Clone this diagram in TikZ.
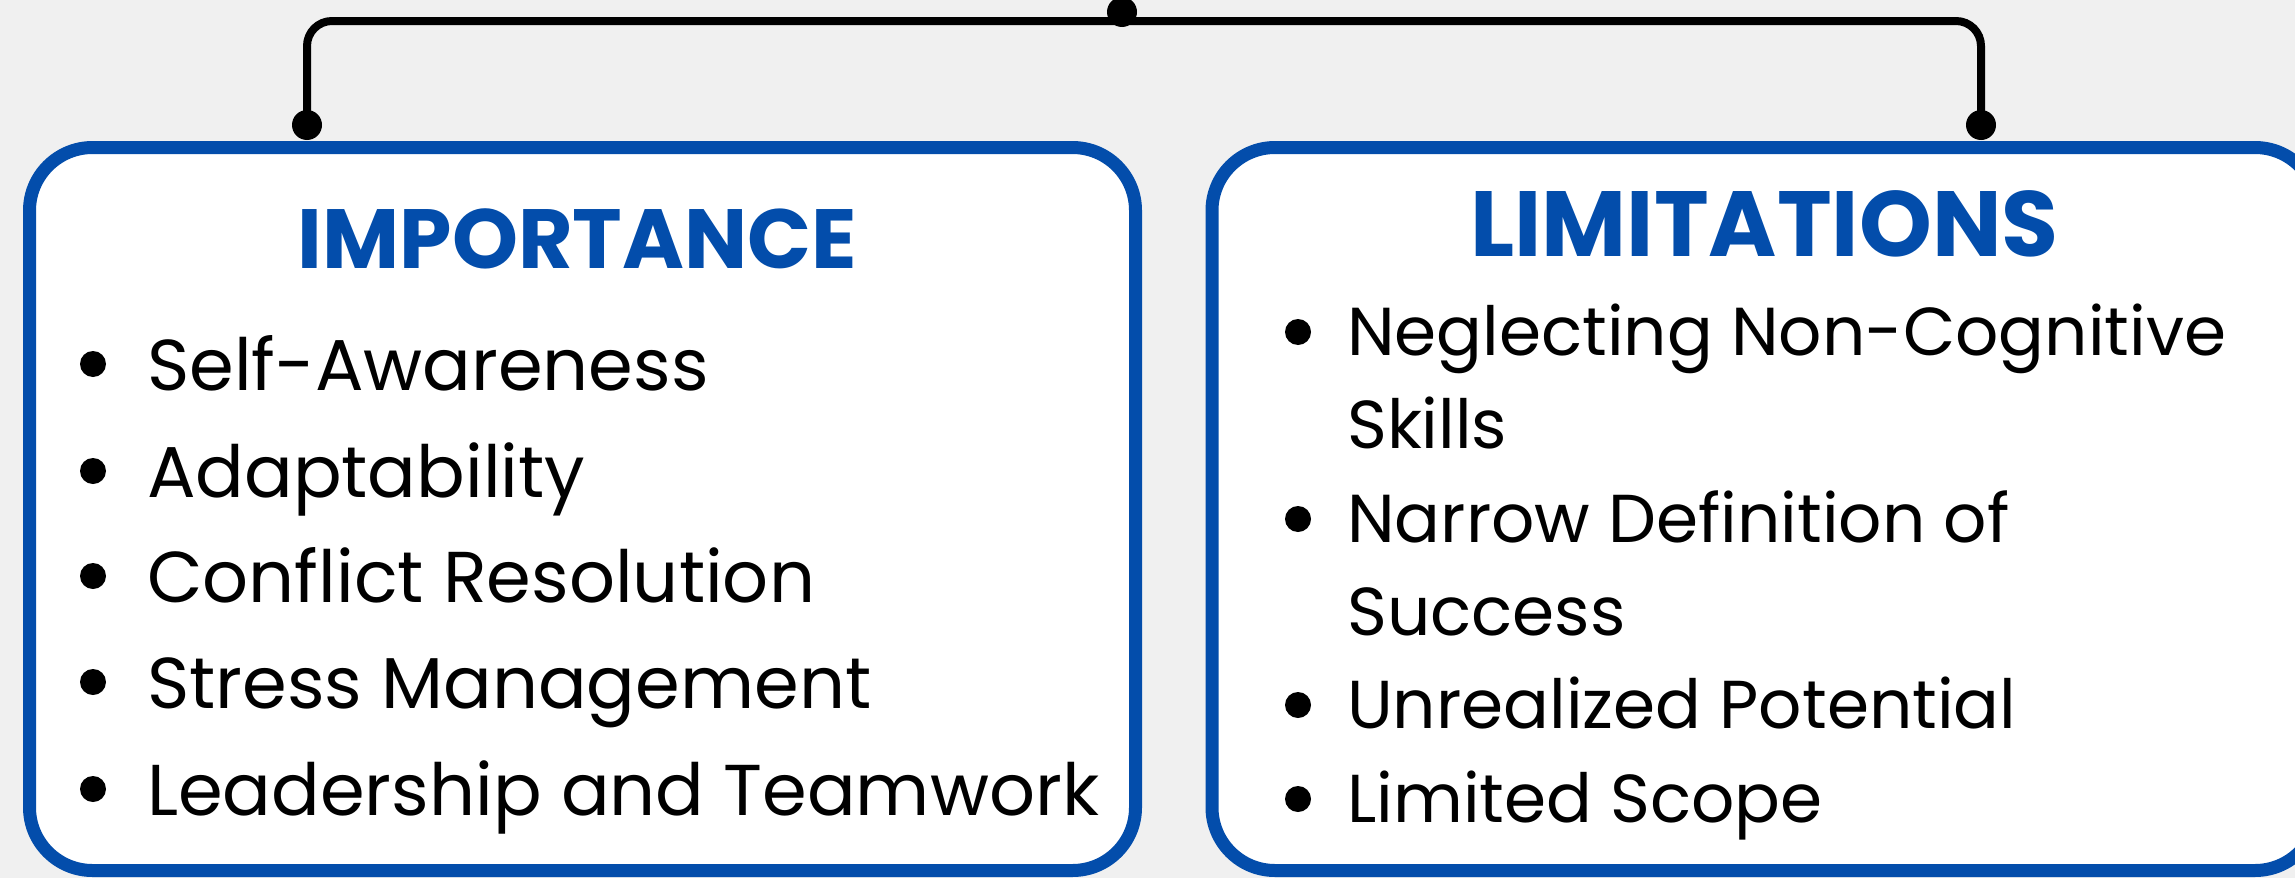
\documentclass[tikz,border=0pt]{standalone}
\usepackage{fontspec}
\setmainfont{Poppins}
\definecolor{boxblue}{RGB}{3,77,171}
\definecolor{paper}{RGB}{240,240,240}
\tikzstyle{panel}=[draw=boxblue, line width=13pt, fill=white, rounded corners=63pt, minimum width=1106pt, minimum height=723pt]
\tikzstyle{dot}=[circle, fill=black, inner sep=0pt, minimum size=30pt]
\tikzstyle{bul}=[circle, fill=black, inner sep=0pt, minimum size=26pt]
\tikzstyle{item}=[anchor=base west, inner sep=0pt]
\tikzstyle{head}=[text=boxblue, anchor=base, inner sep=0pt]
\tikzstyle{link}=[line width=8pt, rounded corners=25pt]

\begin{document}
\begin{tikzpicture}[x=1pt, y=-1pt]
    \fill[paper] (0,0) rectangle (2295,878);
    \useasboundingbox (0,0) rectangle (2295,878);
    % the two panels
    \node[panel] (imp) at (582.5,509) {};
    \node[panel] (lim) at (1765,509) {};
    \node[head, font=\fontsize{84pt}{100pt}\selectfont\bfseries] (imph) at (577.5,268) {IMPORTANCE};
    \node[head, font=\fontsize{92.6pt}{110pt}\selectfont\bfseries] (limh) at (1764.5,256) {LIMITATIONS};
    % connector on top
    \node[dot] (top) at (1122,12) {};
    \node[dot] (ldot) at (307,125) {};
    \node[dot] (rdot) at (1981,125) {};
    \coordinate (bar) at (1122,21);
    \draw[link] (ldot.center) |- (bar) -| (rdot.center);
    % left list
    \foreach \y/\txt [count=\i] in
      {390/Self-Awareness, 497/Adaptability, 602/Conflict Resolution,
       708/Stress Management, 815/Leadership and Teamwork}
    {
    \node[bul] (ib\i) at (93,\y-26) {};
    \node[item, font=\fontsize{72pt}{88pt}\selectfont] (it\i) at (147,\y) {\txt};
    }
    % right list
    \foreach \y [count=\i] in {355, 542, 728, 822}
    \node[bul] (lb\i) at (1298,\y-23) {};
    \foreach \y/\txt [count=\i] in
      {355/Neglecting Non-Cognitive, 448/Skills, 542/Narrow Definition of,
       635/Success, 728/Unrealized Potential, 822/Limited Scope}
    \node[item, font=\fontsize{67.8pt}{84pt}\selectfont] (lt\i) at (1347,\y) {\txt};
\end{tikzpicture}
\end{document}
